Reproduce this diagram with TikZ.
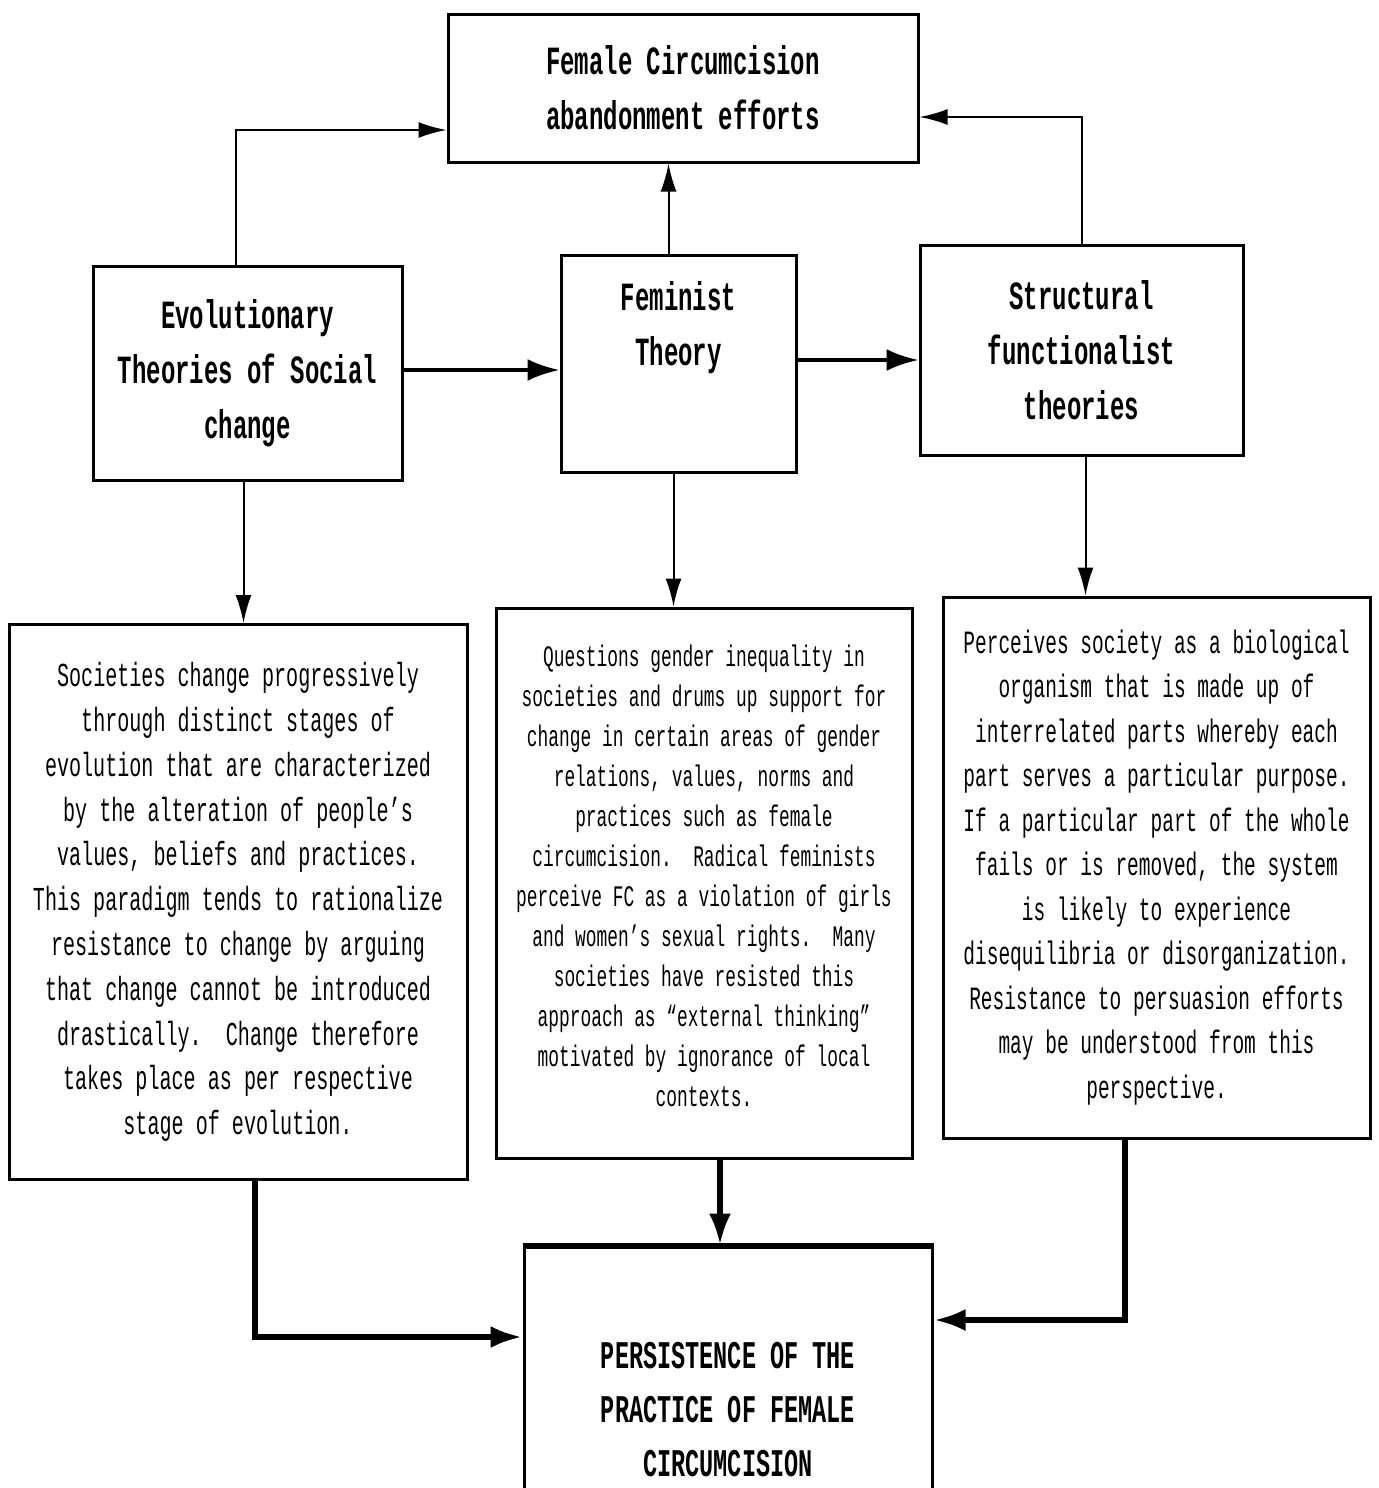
\documentclass[tikz,border=0pt]{standalone}
\usepackage{fontspec}
\usetikzlibrary{arrows.meta}
\newfontfamily\boxfont[FakeStretch=0.6]{Liberation Mono}

\tikzset{
  box/.style={draw, line width=1.5pt, align=center, inner sep=0pt},
  headbox/.style={box, font=\boxfont\bfseries\fontsize{20}{27.5}\selectfont},
  textbox/.style={box, font=\boxfont\fontsize{16.75}{22.4}\selectfont},
  thin arrow/.style={line width=1pt, -{Latex[length=14pt, width=8pt]}},
  bold arrow/.style={line width=3pt, -{Latex[length=16pt, width=11pt]}}
}

\begin{document}
\begin{tikzpicture}[x=0.5pt, y=-0.5pt]
\clip (0,0) rectangle (1379,1488);
\fill[white] (0,0) rectangle (1379,1488);

\node[headbox, minimum width=235pt, minimum height=74pt] (fc) at (683,88) {Female Circumcision\\abandonment efforts};
\node[headbox, minimum width=154.5pt, minimum height=107pt] (evo) at (247.5,373) {Evolutionary\\Theories of Social\\change};
\node[headbox, minimum width=117.5pt, minimum height=108.5pt] (fem) at (678.5,363.5) {Feminist\\Theory\\[12pt]\mbox{}};
\node[headbox, minimum width=161.5pt, minimum height=105pt] (sf) at (1081.5,350) {Structural\\functionalist\\theories};

\node[textbox, minimum width=229pt, minimum height=277.5pt] (evotext) at (238,902) {Societies change progressively\\through distinct stages of\\evolution that are characterized\\by the alteration of people’s\\values, beliefs and practices.\\This paradigm tends to rationalize\\resistance to change by arguing\\that change cannot be introduced\\drastically.\ \ Change therefore\\takes place as per respective\\stage of evolution.};
\node[textbox, font=\boxfont\fontsize{14.9}{20}\selectfont, minimum width=208pt, minimum height=275pt] (femtext) at (704,883) {Questions gender inequality in\\societies and drums up support for\\change in certain areas of gender\\relations, values, norms and\\practices such as female\\circumcision.\ \ Radical feminists\\perceive FC as a violation of girls\\and women’s sexual rights.\ \ Many\\societies have resisted this\\approach as “external thinking”\\motivated by ignorance of local\\contexts.\\[-13pt]\mbox{}};
\node[textbox, font=\boxfont\fontsize{16.25}{22.25}\selectfont, minimum width=213.5pt, minimum height=270.5pt] (sftext) at (1156.5,867.5) {Perceives society as a biological\\organism that is made up of\\interrelated parts whereby each\\part serves a particular purpose.\\If a particular part of the whole\\fails or is removed, the system\\is likely to experience\\disequilibria or disorganization.\\Resistance to persuasion efforts\\may be understood from this\\perspective.};

\node[headbox, font=\boxfont\bfseries\fontsize{19.6}{27}\selectfont, minimum width=204pt, minimum height=163pt] (pfc) at (728,1410) {PERSISTENCE OF THE\\PRACTICE OF FEMALE\\CIRCUMCISION};
\draw[line width=3pt] (pfc.north west) -- (pfc.north east);

\draw[thin arrow] ([xshift=-6pt]evo.north) |- (fc.west |- 0,130);
\draw[thin arrow] ([xshift=-5pt]fem.north) -- ([xshift=-5pt]fem.north |- fc.south);
\draw[thin arrow] (sf.north) |- (fc.east |- 0,117);
\draw[bold arrow, line width=2pt] (evo.east |- 0,370) -- (fem.west |- 0,370);
\draw[bold arrow, line width=2pt] (fem.east |- 0,360) -- (sf.west |- 0,360);

\draw[thin arrow] ([xshift=-2pt]evo.south) -- ([xshift=-2pt]evo.south |- evotext.north);
\draw[thin arrow] ([xshift=-2.5pt]fem.south) -- ([xshift=-2.5pt]fem.south |- femtext.north);
\draw[thin arrow] ([xshift=2pt]sf.south) -- ([xshift=2pt]sf.south |- sftext.north);

\draw[bold arrow] ([xshift=8pt]femtext.south) -- ([xshift=8pt]femtext.south |- pfc.north);
\draw[bold arrow] ([xshift=8.5pt]evotext.south) |- (pfc.west |- 0,1337);
\draw[bold arrow] ([xshift=-15.75pt]sftext.south) |- (pfc.east |- 0,1320);
\end{tikzpicture}
\end{document}
